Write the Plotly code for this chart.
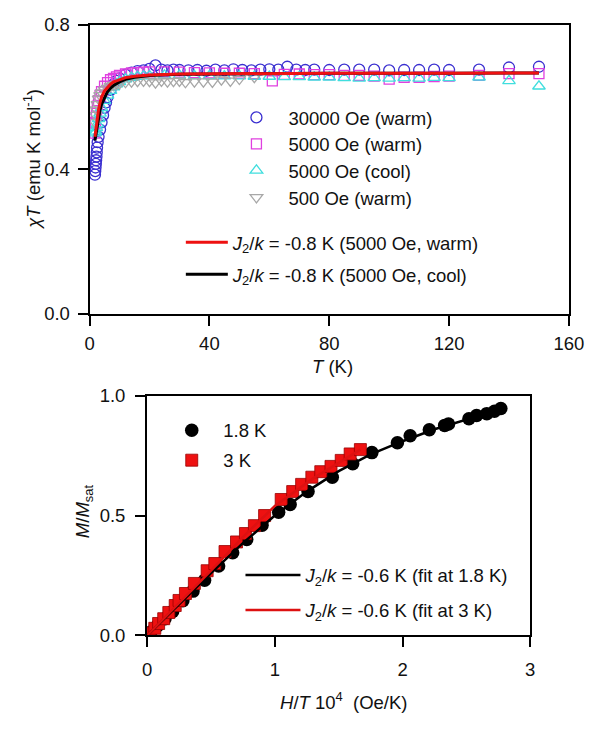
import plotly.graph_objects as go

# ---------------- top panel data: chi*T vs T ----------------
T_30000w = [1.8, 1.9, 2.0, 2.1, 2.2, 2.3, 2.4, 2.5, 2.7, 3.0, 3.5, 4.0, 4.5, 5.0, 5.5, 6, 7, 8, 9, 10,
            12, 14, 16, 18, 20, 22, 24, 26, 28, 30, 33, 36, 39, 42, 45, 48, 51, 54, 57, 60, 63, 66,
            69, 72, 75, 80, 85, 90, 95, 100, 105, 110, 115, 120, 130, 140, 150]
chiT_30000w = [0.385, 0.395, 0.405, 0.415, 0.425, 0.435, 0.447, 0.46, 0.475, 0.49, 0.51, 0.53, 0.55,
               0.57, 0.585, 0.60, 0.62, 0.635, 0.645, 0.652, 0.662, 0.668, 0.672, 0.674, 0.678, 0.688,
               0.676, 0.674, 0.676, 0.675, 0.674, 0.675, 0.673, 0.676, 0.674, 0.677, 0.675, 0.674,
               0.676, 0.677, 0.676, 0.684, 0.676, 0.675, 0.676, 0.675, 0.676, 0.676, 0.676, 0.674,
               0.675, 0.675, 0.676, 0.675, 0.676, 0.682, 0.684]

T_5000w = [1.8, 2.0, 2.3, 2.6, 3.0, 3.5, 4, 5, 6, 7, 8, 9, 10, 12, 14, 16, 18, 20, 25, 30, 35, 40, 45,
           50, 55, 61, 65, 70, 75, 80, 85, 90, 95, 100, 105, 110, 115, 120, 130, 140, 150]
chiT_5000w = [0.50, 0.53, 0.555, 0.575, 0.59, 0.605, 0.615, 0.63, 0.64, 0.648, 0.652, 0.656, 0.66,
              0.664, 0.667, 0.668, 0.669, 0.67, 0.67, 0.669, 0.668, 0.667, 0.666, 0.666, 0.665,
              0.645, 0.663, 0.664, 0.662, 0.662, 0.660, 0.660, 0.658, 0.650, 0.655, 0.655, 0.657,
              0.658, 0.660, 0.665, 0.665]

T_5000c = [1.8, 2.0, 2.3, 2.6, 3.0, 3.5, 4, 5, 6, 7, 8, 9, 10, 12, 14, 16, 18, 20, 25, 30, 35, 40, 45,
           50, 55, 60, 65, 70, 75, 80, 85, 90, 95, 100, 105, 110, 115, 120, 130, 140, 150]
chiT_5000c = [0.50, 0.505, 0.515, 0.525, 0.54, 0.555, 0.57, 0.59, 0.605, 0.618, 0.628, 0.636, 0.642,
              0.65, 0.654, 0.657, 0.658, 0.659, 0.66, 0.66, 0.659, 0.659, 0.658, 0.658, 0.657,
              0.657, 0.656, 0.656, 0.655, 0.655, 0.653, 0.652, 0.653, 0.652, 0.653, 0.652, 0.654,
              0.653, 0.655, 0.645, 0.630]

T_500w = [1.8, 2.0, 2.3, 2.6, 3.0, 3.5, 4, 5, 6, 7, 8, 9, 10, 12, 14, 16, 18, 20, 22, 24, 26, 28,
          30, 32, 35, 38, 41, 44, 47, 50, 55]
chiT_500w = [0.53, 0.55, 0.565, 0.58, 0.595, 0.605, 0.612, 0.62, 0.625, 0.63, 0.633, 0.636, 0.638,
             0.641, 0.643, 0.644, 0.645, 0.644, 0.640, 0.645, 0.643, 0.644, 0.645, 0.641, 0.643,
             0.643, 0.642, 0.648, 0.645, 0.650, 0.655]

T_fit = [1.8, 2.0, 2.5, 3.0, 3.5, 4, 5, 6, 7, 8, 10, 12, 15, 20, 30, 50, 80, 120, 150]
chiT_fit_warm = [0.49, 0.505, 0.54, 0.565, 0.585, 0.60, 0.617, 0.628, 0.636, 0.642, 0.649, 0.654,
                 0.658, 0.661, 0.664, 0.665, 0.666, 0.666, 0.667]
chiT_fit_cool = [0.48, 0.49, 0.52, 0.545, 0.565, 0.58, 0.60, 0.615, 0.625, 0.632, 0.642, 0.649,
                 0.655, 0.66, 0.663, 0.665, 0.666, 0.666, 0.667]

# ---------------- bottom panel data: M/Msat vs H/T ----------------
HT_18 = [0.03, 0.08, 0.14, 0.2, 0.28, 0.36, 0.45, 0.56, 0.67, 0.78, 0.9, 1.03, 1.12, 1.26, 1.45,
         1.61, 1.76, 1.96, 2.06, 2.21, 2.33, 2.36, 2.52, 2.58, 2.66, 2.72, 2.77]
M_18 = [0.015, 0.04, 0.07, 0.10, 0.145, 0.185, 0.23, 0.29, 0.345, 0.40, 0.46, 0.514, 0.546, 0.60,
        0.66, 0.716, 0.7625, 0.804, 0.833, 0.858, 0.876, 0.882, 0.904, 0.917, 0.925, 0.935, 0.946]

HT_3 = [0.02, 0.06, 0.09, 0.13, 0.17, 0.22, 0.25, 0.30, 0.37, 0.47, 0.53, 0.61, 0.70, 0.77, 0.84,
        0.92, 1.05, 1.14, 1.21, 1.29, 1.36, 1.44, 1.52, 1.59, 1.67]
M_3 = [0.01, 0.03, 0.05, 0.07, 0.096, 0.125, 0.146, 0.175, 0.217, 0.27, 0.30, 0.35, 0.39, 0.425,
       0.458, 0.50, 0.567, 0.60, 0.63, 0.66, 0.683, 0.705, 0.73, 0.757, 0.775]

HT_fit18 = [0, 0.25, 0.5, 0.75, 1.0, 1.25, 1.5, 1.75, 2.0, 2.25, 2.5, 2.78]
M_fit18 = [0, 0.13, 0.26, 0.385, 0.50, 0.60, 0.685, 0.755, 0.81, 0.86, 0.90, 0.945]
HT_fit3 = [0, 0.25, 0.5, 0.75, 1.0, 1.3, 1.5, 1.67]
M_fit3 = [0, 0.135, 0.27, 0.41, 0.54, 0.655, 0.72, 0.775]

FONT = "Arial, Liberation Sans, sans-serif"
FS = 18.5
W, H = 600, 733
SX, BX, SY, BY = 0.974, 4.8, 0.972, 10.1   # observed page -> picture mapping


def page_x(R):
    return (R - BX) / SX


def page_y(R):
    return (R - BY) / SY


def fx(R):
    return page_x(R) / W


def fy(R):
    return 1 - page_y(R) / H


fig = go.Figure()

# top panel markers
fig.add_trace(go.Scatter(x=T_30000w, y=chiT_30000w, mode="markers", name="30000 Oe (warm)",
                         marker=dict(symbol="circle-open", size=11, color="#3a2fd0", line=dict(width=1.3)),
                         xaxis="x", yaxis="y", legend="legend"))
fig.add_trace(go.Scatter(x=T_5000w, y=chiT_5000w, mode="markers", name="5000 Oe (warm)",
                         marker=dict(symbol="square-open", size=10, color="#e040e0", line=dict(width=1.3)),
                         xaxis="x", yaxis="y", legend="legend2"))
fig.add_trace(go.Scatter(x=T_5000c, y=chiT_5000c, mode="markers", name="5000 Oe (cool)",
                         marker=dict(symbol="triangle-up-open", size=11, color="#40dede", line=dict(width=1.3)),
                         xaxis="x", yaxis="y", legend="legend3"))
fig.add_trace(go.Scatter(x=T_500w, y=chiT_500w, mode="markers", name="500 Oe (warm)",
                         marker=dict(symbol="triangle-down-open", size=11, color="#a8a8a8", line=dict(width=1.3)),
                         xaxis="x", yaxis="y", legend="legend4"))
# top panel fits (black first, red over it)
fig.add_trace(go.Scatter(x=T_fit, y=chiT_fit_cool, mode="lines",
                         name="<i>J</i><sub>2</sub>/<i>k</i> = -0.8 K (5000 Oe, cool)",
                         line=dict(color="black", width=3), xaxis="x", yaxis="y", legend="legend6"))
fig.add_trace(go.Scatter(x=T_fit, y=chiT_fit_warm, mode="lines",
                         name="<i>J</i><sub>2</sub>/<i>k</i> = -0.8 K (5000 Oe, warm)",
                         line=dict(color="#ee1111", width=3), xaxis="x", yaxis="y", legend="legend5"))

# bottom panel
fig.add_trace(go.Scatter(x=HT_18, y=M_18, mode="markers", name="1.8 K",
                         marker=dict(symbol="circle", size=13.5, color="black"),
                         xaxis="x2", yaxis="y2", legend="legend7"))
fig.add_trace(go.Scatter(x=HT_3, y=M_3, mode="markers", name="3 K",
                         marker=dict(symbol="square", size=12, color="#ee1111",
                                     line=dict(color="#990000", width=0.8)),
                         xaxis="x2", yaxis="y2", legend="legend8"))
fig.add_trace(go.Scatter(x=HT_fit18, y=M_fit18, mode="lines",
                         name="<i>J</i><sub>2</sub>/<i>k</i> = -0.6 K (fit at 1.8 K)",
                         line=dict(color="black", width=2.5), xaxis="x2", yaxis="y2", legend="legend9"))
fig.add_trace(go.Scatter(x=HT_fit3, y=M_fit3, mode="lines",
                         name="<i>J</i><sub>2</sub>/<i>k</i> = -0.6 K (fit at 3 K)",
                         line=dict(color="#dd1111", width=2.5), xaxis="x2", yaxis="y2", legend="legend10"))

axis_common = dict(showline=True, linecolor="black", linewidth=2, mirror=True,
                   ticks="outside", ticklen=10, tickwidth=2, tickcolor="black",
                   showgrid=False, zeroline=False, ticklabeloverflow="allow",
                   tickfont=dict(family=FONT, size=FS, color="#111"))


def leg(left_page, center_ref, itemwidth=30):
    top_page = page_y(center_ref) - 19.5
    return dict(font=dict(family=FONT, size=FS, color="#111"), bgcolor="rgba(0,0,0,0)",
                borderwidth=0, xanchor="left", yanchor="top", itemwidth=itemwidth,
                x=left_page / W, y=1 - top_page / H)


fig.update_layout(
    width=W, height=H,
    margin=dict(l=0, r=0, t=0, b=0),
    paper_bgcolor="white", plot_bgcolor="white",
    showlegend=True,
    xaxis=dict(domain=[fx(90), fx(573)], range=[0, 160], tickvals=[0, 40, 80, 120, 160],
               anchor="y", ticklabelstandoff=2, **axis_common),
    yaxis=dict(domain=[fy(313), fy(24)], range=[0, 0.8], tickvals=[0, 0.4, 0.8],
               tickformat=".1f", anchor="x", ticklabelstandoff=4, **axis_common),
    xaxis2=dict(domain=[fx(148), fx(534)], range=[0, 3], tickvals=[0, 1, 2, 3],
                anchor="y2", ticklabelstandoff=6, **axis_common),
    yaxis2=dict(domain=[fy(635), fy(395)], range=[0, 1], tickvals=[0, 0.5, 1.0],
                tickformat=".1f", anchor="x2", ticklabelstandoff=6, **axis_common),
    legend=leg(227.0, 117, 54),
    legend2=leg(227.0, 143.5, 54),
    legend3=leg(227.0, 170, 54),
    legend4=leg(227.0, 197, 54),
    legend5=leg(181.9, 242, 42),
    legend6=leg(181.9, 274, 42),
    legend7=leg(160.6, 430, 53),
    legend8=leg(160.6, 460, 53),
    legend9=leg(243.6, 575, 55),
    legend10=leg(243.6, 610, 55),
    annotations=[
        dict(text="<i>χT</i> (emu K mol<sup>-1</sup>)", xref="paper", yref="paper",
             x=fx(32), y=fy(158), textangle=-90, showarrow=False,
             font=dict(family=FONT, size=FS, color="#111"), xanchor="center", yanchor="middle"),
        dict(text="<i>T</i> (K)", xref="paper", yref="paper",
             x=fx(335), y=fy(366), showarrow=False,
             font=dict(family=FONT, size=FS, color="#111"), xanchor="center", yanchor="middle"),
        dict(text="<i>M</i>/<i>M</i><sub>sat</sub>", xref="paper", yref="paper",
             x=fx(84), y=fy(511), textangle=-90, showarrow=False,
             font=dict(family=FONT, size=FS, color="#111"), xanchor="center", yanchor="middle"),
        dict(text="<i>H</i>/<i>T</i> 10<sup>4</sup>  (Oe/K)", xref="paper", yref="paper",
             x=fx(346), y=fy(701), showarrow=False,
             font=dict(family=FONT, size=FS, color="#111"), xanchor="center", yanchor="middle"),
    ],
)

fig.write_html("out.html", config={"displayModeBar": False},
               post_script="document.body.style.margin='0';document.body.style.overflow='hidden';")
